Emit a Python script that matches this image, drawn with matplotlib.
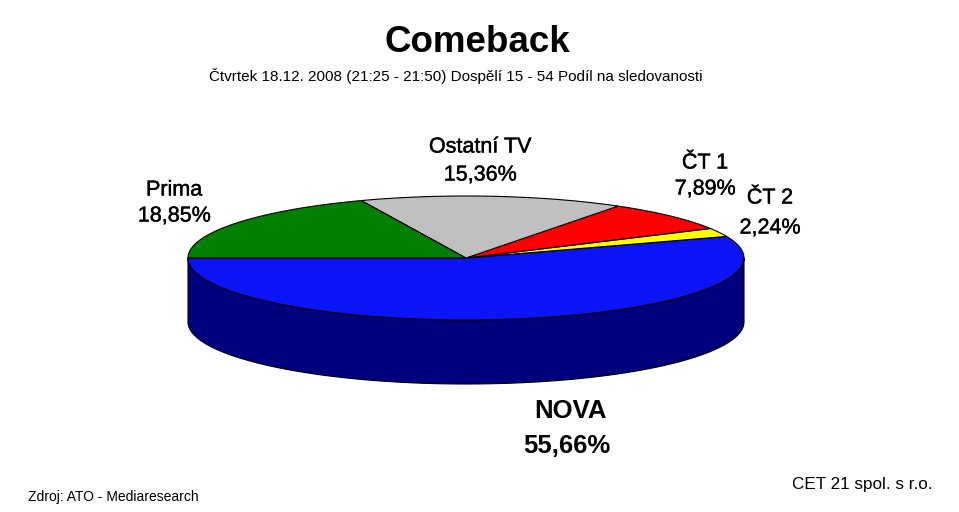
import numpy as np
import matplotlib
matplotlib.use("Agg")
import matplotlib.pyplot as plt
import matplotlib.patheffects as pe
from matplotlib.patches import Polygon

plt.rcParams['font.family'] = ['Liberation Sans', 'DejaVu Sans']

# data: shares in %, counter-clockwise from the left edge of the pie
channels = ["NOVA", "ČT 2", "ČT 1", "Ostatní TV", "Prima"]
shares = [55.66, 2.24, 7.89, 15.36, 18.85]
share_labels = ["55,66%", "2,24%", "7,89%", "15,36%", "18,85%"]
top_colors = ["#0A14F5", "#FFFF00", "#FF0000", "#C0C0C0", "#008000"]
side_colors = ["#00007E", "#A0A000", "#A00000", "#808080", "#004000"]

title = "Comeback"
subtitle = "Čtvrtek 18.12. 2008 (21:25 - 21:50) Dospělí 15 - 54 Podíl na sledovanosti"
source = "Zdroj: ATO - Mediaresearch"
owner = "CET 21 spol. s r.o."

# pie geometry in pixel space
cx, cy = 466, 258
rx, ry = 278, 62
depth = 64
start = 180.0

fig = plt.figure(figsize=(9.59, 5.12), dpi=100)
ax = fig.add_axes([0, 0, 1, 1])
ax.set_xlim(0, 959)
ax.set_ylim(512, 0)
ax.axis('off')


def rim(t):
    r = np.radians(t)
    return cx + rx * np.cos(r), cy - ry * np.sin(r)


angles = start + 360 * np.concatenate([[0], np.cumsum(shares)]) / sum(shares)

# side wall (only the front half, 180..360 deg, is visible)
for i in range(len(shares)):
    t0, t1 = max(angles[i], 180), min(angles[i + 1], 360)
    if t1 <= t0:
        continue
    t = np.linspace(t0, t1, 100)
    x, y = rim(t)
    pts = np.column_stack([np.r_[x, x[::-1]], np.r_[y, y[::-1] + depth]])
    ax.add_patch(Polygon(pts, closed=True, fc=side_colors[i], ec='black', lw=0.8, zorder=1))

# top face
for i in range(len(shares)):
    t = np.linspace(angles[i], angles[i + 1], 200)
    x, y = rim(t)
    pts = np.column_stack([np.r_[cx, x], np.r_[cy, y]])
    ax.add_patch(Polygon(pts, closed=True, fc=top_colors[i], ec='black', lw=0.8, zorder=2))

# labels
semi = [pe.withStroke(linewidth=0.3, foreground='black')]
label_pos = [(570, 411, 446), (770, 198, 228), (705, 163, 189), (480, 147, 175), (174, 190, 216)]
for i, (lx, y1, y2) in enumerate(label_pos):
    if channels[i] == "NOVA":
        ax.text(lx, y1, channels[i], ha='center', va='center', fontsize=18.5, fontweight='bold')
        ax.text(lx - 3, y2, share_labels[i], ha='center', va='center', fontsize=18.5, fontweight='bold')
    else:
        ax.text(lx, y1, channels[i], ha='center', va='center', fontsize=15.5, path_effects=semi)
        ax.text(lx, y2, share_labels[i], ha='center', va='center', fontsize=15.5, path_effects=semi)

ax.text(477, 42, title, ha='center', va='center', fontsize=26.5, fontweight='bold')
ax.text(456, 76, subtitle, ha='center', va='center', fontsize=11)
ax.text(28, 497, source, ha='left', va='center', fontsize=10)
ax.text(932, 485, owner, ha='right', va='center', fontsize=12.3)

fig.savefig("out.png", dpi=100)
